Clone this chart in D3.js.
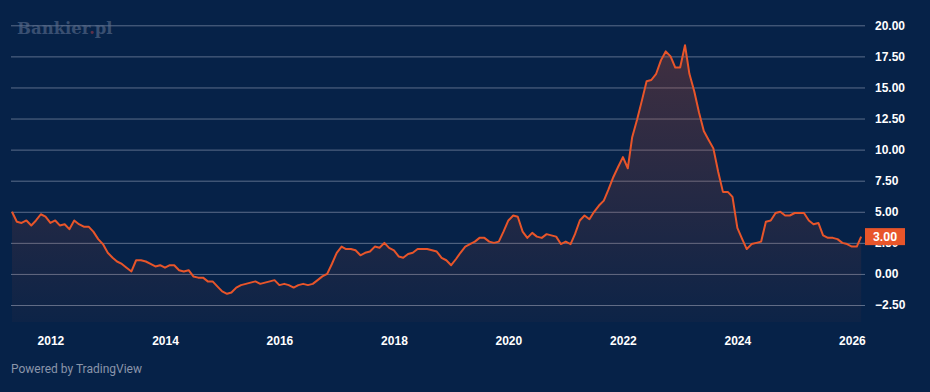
<!DOCTYPE html>
<html>
<head>
<meta charset="utf-8">
<script src="https://cdn.jsdelivr.net/npm/d3@7"></script>
<style>
  html, body { margin: 0; padding: 0; background: #062248; }
  svg { display: block; font-family: Roboto, "Liberation Sans", sans-serif; }
</style>
</head>
<body>
<div id="chart"></div>
<script>
// monthly inflation y/y, first month 2011-05
const startMonth = "2011-05";
const values = [
  5.0, 4.2, 4.1, 4.3, 3.9, 4.3, 4.8, 4.6,
  4.1, 4.3, 3.9, 4.0, 3.6, 4.3, 4.0, 3.8, 3.8, 3.4, 2.8, 2.4,
  1.7, 1.3, 1.0, 0.8, 0.5, 0.2, 1.1, 1.1, 1.0, 0.8, 0.6, 0.7,
  0.5, 0.7, 0.7, 0.3, 0.2, 0.3, -0.2, -0.3, -0.3, -0.6, -0.6, -1.0,
  -1.4, -1.6, -1.5, -1.1, -0.9, -0.8, -0.7, -0.6, -0.8, -0.7, -0.6, -0.5,
  -0.9, -0.8, -0.9, -1.1, -0.9, -0.8, -0.9, -0.8, -0.5, -0.2, 0.0, 0.8,
  1.7, 2.2, 2.0, 2.0, 1.9, 1.5, 1.7, 1.8, 2.2, 2.1, 2.5, 2.1,
  1.9, 1.4, 1.3, 1.6, 1.7, 2.0, 2.0, 2.0, 1.9, 1.8, 1.3, 1.1,
  0.7, 1.2, 1.7, 2.2, 2.4, 2.6, 2.9, 2.9, 2.6, 2.5, 2.6, 3.4,
  4.3, 4.7, 4.6, 3.4, 2.9, 3.3, 3.0, 2.9, 3.2, 3.1, 3.0, 2.4,
  2.6, 2.4, 3.2, 4.3, 4.7, 4.4, 5.0, 5.5, 5.9, 6.8, 7.8, 8.6,
  9.4, 8.5, 11.0, 12.4, 13.9, 15.5, 15.6, 16.1, 17.2, 17.9, 17.5, 16.6,
  16.6, 18.4, 16.1, 14.7, 13.0, 11.5, 10.8, 10.1, 8.2, 6.6, 6.6, 6.2,
  3.7, 2.8, 2.0, 2.4, 2.5, 2.6, 4.2, 4.3, 4.9, 5.0, 4.7, 4.7,
  4.9, 4.9, 4.9, 4.3, 4.0, 4.1, 3.1, 2.9, 2.9, 2.8, 2.5, 2.4,
  2.2, 2.2, 3.0
];
const yTicks = [-2.5, 0, 2.5, 5, 7.5, 10, 12.5, 15, 17.5, 20];
const xTickYears = [2012, 2014, 2016, 2018, 2020, 2022, 2024, 2026];

const w = 930, h = 392;
const left = 11, right = 865, paneBottom = 322;

const parseMonth = d3.timeParse("%Y-%m");
const t0 = parseMonth(startMonth);
const data = values.map((v, i) => ({ date: d3.timeMonth.offset(t0, i), value: v }));

const svg = d3.select("#chart").append("svg").attr("width", w).attr("height", h);

svg.append("rect").attr("width", w).attr("height", h).attr("fill", "#062248");

// scales
const x = d3.scaleTime()
  .domain([parseMonth("2011-05"), parseMonth("2023-02")])
  .range([12, 685]);
const y = d3.scaleLinear().domain([-2.5, 20]).range([305, 25.3]);

// watermark
const wm = svg.append("text").attr("x", 17).attr("y", 34)
  .style("font-family", "'DejaVu Serif', 'Liberation Serif', serif")
  .style("font-weight", "bold").style("font-size", "16.5px")
  .attr("fill", "#394f71");
wm.append("tspan").text("Bankier");
wm.append("tspan").attr("fill", "#5e3149").text(".");
wm.append("tspan").text("pl");

// gradient for area
const grad = svg.append("defs").append("linearGradient")
  .attr("id", "fillGrad").attr("gradientUnits", "userSpaceOnUse")
  .attr("x1", 0).attr("x2", 0)
  .attr("y1", y(d3.max(values))).attr("y2", paneBottom);
grad.append("stop").attr("offset", "0%").attr("stop-color", "#e8552a").attr("stop-opacity", 0.26);
grad.append("stop").attr("offset", "100%").attr("stop-color", "#e8552a").attr("stop-opacity", 0.03);

// y axis + grid
const axisY = d3.axisRight(y).tickValues(yTicks).tickFormat(d3.format(".2f"))
  .tickSize(-(right - left)).tickPadding(10);
const gy = svg.append("g").attr("transform", `translate(${right},0)`).call(axisY);
gy.select(".domain").remove();
gy.selectAll(".tick line").attr("stroke", "#5b6d8a").attr("stroke-width", 1);
gy.selectAll(".tick text").attr("fill", "#ffffff")
  .style("font-size", "12px").style("font-weight", "bold");

// area + line
const area = d3.area().x(d => x(d.date)).y0(paneBottom).y1(d => y(d.value));
svg.append("path").datum(data).attr("d", area).attr("fill", "url(#fillGrad)");

const line = d3.line().x(d => x(d.date)).y(d => y(d.value));
svg.append("path").datum(data).attr("d", line)
  .attr("fill", "none").attr("stroke", "#e8552a").attr("stroke-width", 2)
  .attr("stroke-linejoin", "round");

// x axis
const axisX = d3.axisBottom(x)
  .tickValues(xTickYears.map(yr => new Date(yr, 0, 1)))
  .tickFormat(d3.timeFormat("%Y")).tickSize(0).tickPadding(8);
const gx = svg.append("g").attr("transform", "translate(0,328)").call(axisX);
gx.select(".domain").remove();
gx.selectAll(".tick text").attr("fill", "#ffffff")
  .style("font-size", "12px").style("font-weight", "bold");

// last value label (covers the 2.50 label like the original does)
const last = data[data.length - 1];
svg.append("rect").attr("x", right).attr("y", y(last.value) - 8.5)
  .attr("width", 40).attr("height", 17).attr("fill", "#e8552a");
svg.append("text").attr("x", right + 20).attr("y", y(last.value))
  .attr("dy", "0.35em").attr("text-anchor", "middle")
  .attr("fill", "#ffffff").style("font-size", "12px").style("font-weight", "bold")
  .text(d3.format(".2f")(last.value));

// footer
svg.append("text").attr("x", 11).attr("y", 373)
  .attr("fill", "#8a95aa").style("font-size", "12px")
  .text("Powered by TradingView");
</script>
</body>
</html>
